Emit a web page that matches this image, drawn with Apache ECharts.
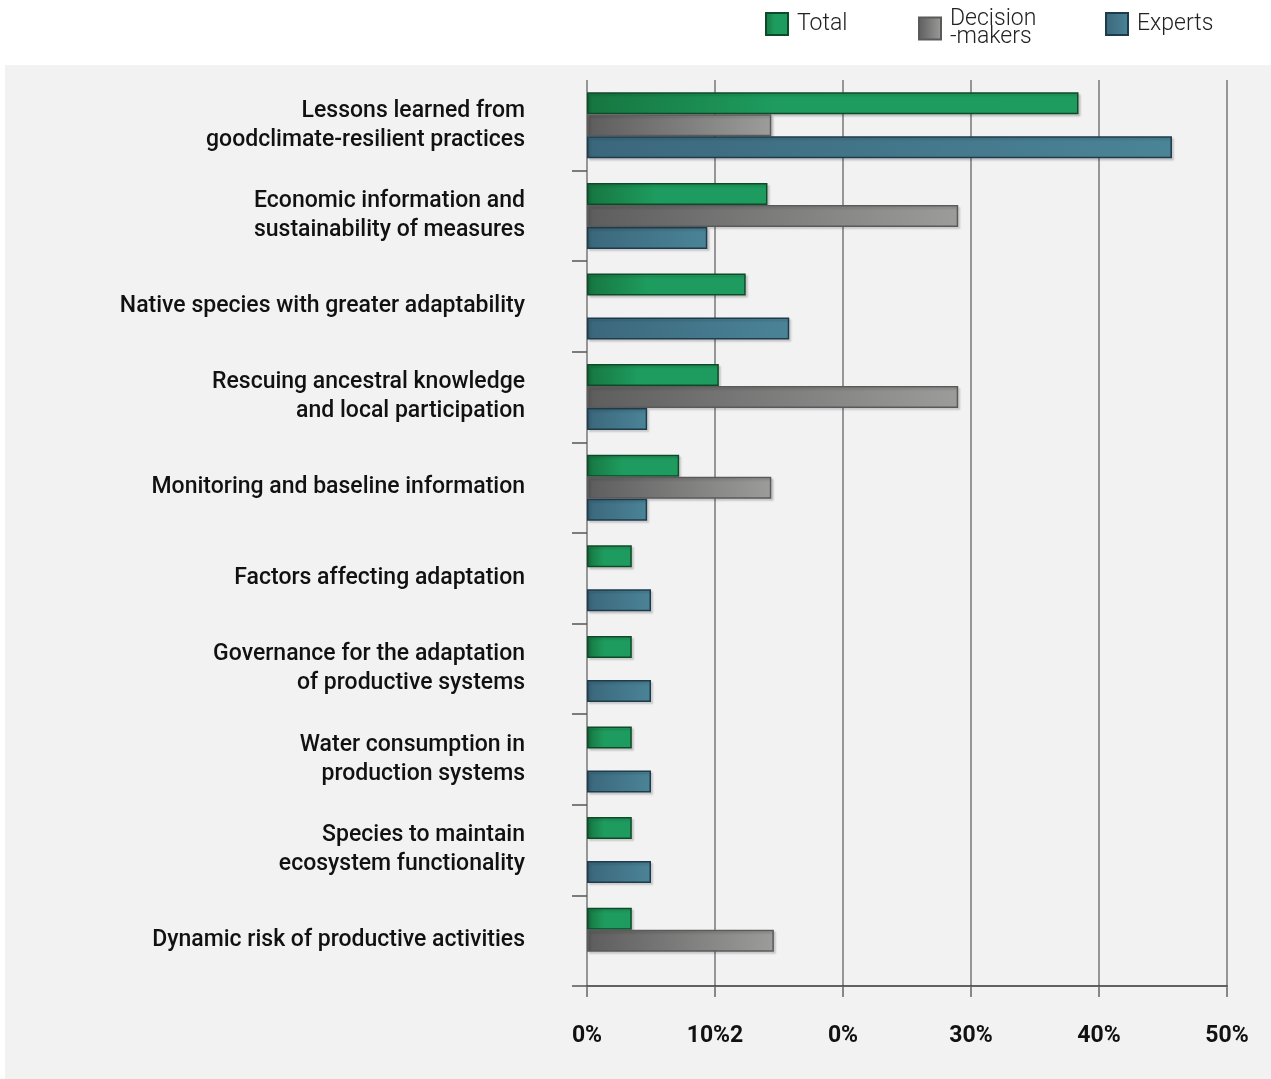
<!DOCTYPE html>
<html>
<head>
<meta charset="utf-8">
<script src="https://cdn.jsdelivr.net/npm/echarts@6/dist/echarts.min.js"></script>
<style>
html,body{margin:0;padding:0;background:#fff;}
#chart{width:1271px;height:1079px;}
</style>
</head>
<body>
<div id="chart"></div>
<script>
var categories = [
  "Lessons learned from\ngoodclimate-resilient practices",
  "Economic information and\nsustainability of measures",
  "Native species with greater adaptability",
  "Rescuing ancestral knowledge\nand local participation",
  "Monitoring and baseline information",
  "Factors affecting adaptation",
  "Governance for the adaptation\nof productive systems",
  "Water consumption in\nproduction systems",
  "Species to maintain\necosystem functionality",
  "Dynamic risk of productive activities"
];
var seriesNames = ["Total", "Decision-makers", "Experts"];
var totalValues = [38.4, 14.1, 12.4, 10.3, 7.2, 3.5, 3.5, 3.5, 3.5, 3.5];
var decisionValues = [14.4, 29.0, null, 29.0, 14.4, null, null, null, null, 14.6];
var expertValues = [45.7, 9.4, 15.8, 4.7, 4.7, 5.0, 5.0, 5.0, 5.0, null];
var tickLabels = ["0%", "10%2", "0%", "30%", "40%", "50%"];

function grad(stops) {
  return new echarts.graphic.LinearGradient(0, 0, 1, 0, stops);
}
var styles = [
  { color: grad([{offset:0,color:'#167640'},{offset:0.38,color:'#1e9b5e'},{offset:1,color:'#1e9c5f'}]), borderColor:'#0e4a28' },
  { color: grad([{offset:0,color:'#5d5d5d'},{offset:1,color:'#9c9c9b'}]), borderColor:'#5a5a5a' },
  { color: grad([{offset:0,color:'#3b677c'},{offset:1,color:'#4b8497'}]), borderColor:'#1d3b4b' }
];
var dataSets = [totalValues, decisionValues, expertValues];

var chart = echarts.init(document.getElementById('chart'), null, {renderer:'canvas'});
var legendText = {
  fontFamily: 'Roboto', fontWeight: 300, fontSize: 23, color: '#222',
  lineHeight: 18, padding: [0,0,0,4]
};
function legendFmt(n){ return n === 'Decision-makers' ? 'Decision\n-makers' : n; }
function legendCfg(name, left, top) {
  return { data: [name], left: left, top: top, padding: 0, icon: 'rect', itemWidth: 22, itemHeight: 22,
           textStyle: legendText, formatter: legendFmt };
}

var option = {
  backgroundColor: '#ffffff',
  animation: false,
  graphic: [{
    type: 'rect', z: -10, silent: true,
    shape: { x: 5, y: 65, width: 1266, height: 1014 },
    style: { fill: '#f2f2f2' }
  }],
  legend: [
    legendCfg('Total', 765, 12),
    legendCfg('Decision-makers', 918, 8),
    legendCfg('Experts', 1105, 12)
  ],
  grid: { left: 587, right: 44, top: 80, bottom: 93, containLabel: false },
  xAxis: {
    type: 'value', min: 0, max: 50, interval: 10,
    axisLine: { show: true, lineStyle: { color: '#333', width: 1.5 } },
    axisTick: { show: true, length: 11, lineStyle: { color: '#666', width: 1.5 } },
    splitLine: { show: true, lineStyle: { color: '#777', width: 1.5 } },
    axisLabel: {
      margin: 39, fontFamily: 'Roboto', fontWeight: 'bold', fontSize: 23, color: '#111',
      formatter: function (v) { return tickLabels[Math.round(v / 10)]; }
    }
  },
  yAxis: {
    type: 'category', data: categories, inverse: true,
    axisLine: { show: false },
    axisTick: { show: true, length: 15, interval: function (i) { return i !== 0; }, lineStyle: { color: '#555', width: 1.5 } },
    axisLabel: {
      margin: 62, fontFamily: 'Roboto', fontWeight: 500, fontSize: 23, lineHeight: 29,
      color: '#111', align: 'right'
    }
  },
  series: seriesNames.map(function (name, i) {
    return {
      name: name, type: 'bar', data: dataSets[i],
      barWidth: 22, barGap: '0%',
      itemStyle: {
        color: styles[i].color, borderColor: styles[i].borderColor, borderWidth: 1.5,
        shadowColor: 'rgba(0,0,0,0.15)', shadowBlur: 2, shadowOffsetX: 2, shadowOffsetY: 2
      }
    };
  })
};
chart.setOption(option);
</script>
</body>
</html>
